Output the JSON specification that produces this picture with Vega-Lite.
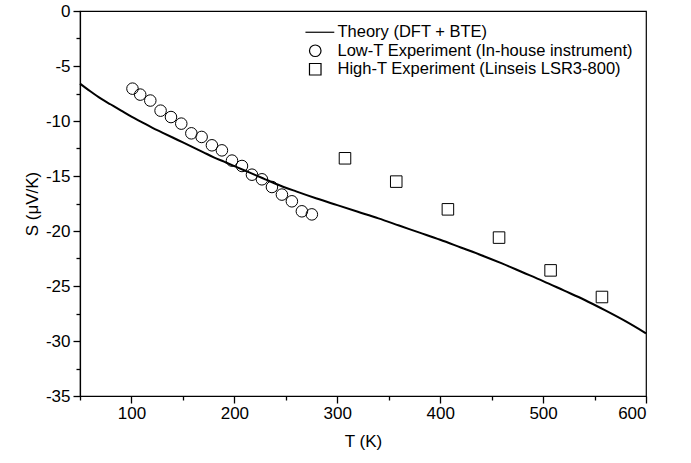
{
  "$schema": "https://vega.github.io/schema/vega-lite/v6.json",
  "width": 566,
  "height": 385,
  "autosize": {"type": "none"},
  "padding": {"left": 80, "top": 11, "right": 45, "bottom": 67},
  "background": "white",
  "config": {
    "view": {"stroke": "black", "strokeWidth": 1.2},
    "font": "Liberation Sans",
    "axis": {"grid": false, "ticks": true, "tickColor": "black", "tickWidth": 1.3, "tickSize": 7, "domainColor": "black", "domainWidth": 1.2}
  },
  "datasets": {
    "theory": [
      {"T": 50, "S": -6.6}, {"T": 60, "S": -7.3}, {"T": 70, "S": -7.95}, {"T": 80, "S": -8.5},
      {"T": 90, "S": -9.05}, {"T": 100, "S": -9.6}, {"T": 110, "S": -10.1}, {"T": 120, "S": -10.6},
      {"T": 130, "S": -11.05}, {"T": 140, "S": -11.5}, {"T": 150, "S": -11.95}, {"T": 160, "S": -12.4},
      {"T": 170, "S": -12.85}, {"T": 180, "S": -13.3}, {"T": 190, "S": -13.7}, {"T": 200, "S": -14.1},
      {"T": 210, "S": -14.5}, {"T": 220, "S": -14.9}, {"T": 230, "S": -15.3}, {"T": 240, "S": -15.7},
      {"T": 260, "S": -16.4}, {"T": 280, "S": -17.05}, {"T": 300, "S": -17.65}, {"T": 320, "S": -18.25},
      {"T": 340, "S": -18.85}, {"T": 360, "S": -19.5}, {"T": 380, "S": -20.15}, {"T": 400, "S": -20.8},
      {"T": 420, "S": -21.5}, {"T": 440, "S": -22.2}, {"T": 460, "S": -22.95}, {"T": 480, "S": -23.75},
      {"T": 500, "S": -24.55}, {"T": 520, "S": -25.4}, {"T": 540, "S": -26.25}, {"T": 560, "S": -27.2},
      {"T": 580, "S": -28.2}, {"T": 600, "S": -29.3}
    ],
    "exp": [
      {"series": "Low-T Experiment (In-house instrument)", "T": 101, "S": -7.06},
      {"series": "Low-T Experiment (In-house instrument)", "T": 108.5, "S": -7.6},
      {"series": "Low-T Experiment (In-house instrument)", "T": 118.3, "S": -8.14},
      {"series": "Low-T Experiment (In-house instrument)", "T": 128.3, "S": -9.06},
      {"series": "Low-T Experiment (In-house instrument)", "T": 138.4, "S": -9.64},
      {"series": "Low-T Experiment (In-house instrument)", "T": 148.4, "S": -10.24},
      {"series": "Low-T Experiment (In-house instrument)", "T": 158.2, "S": -11.12},
      {"series": "Low-T Experiment (In-house instrument)", "T": 168.2, "S": -11.45},
      {"series": "Low-T Experiment (In-house instrument)", "T": 178.2, "S": -12.21},
      {"series": "Low-T Experiment (In-house instrument)", "T": 187.9, "S": -12.67},
      {"series": "Low-T Experiment (In-house instrument)", "T": 197.7, "S": -13.6},
      {"series": "Low-T Experiment (In-house instrument)", "T": 207.4, "S": -14.09},
      {"series": "Low-T Experiment (In-house instrument)", "T": 217.1, "S": -14.88},
      {"series": "Low-T Experiment (In-house instrument)", "T": 226.8, "S": -15.3},
      {"series": "Low-T Experiment (In-house instrument)", "T": 236.5, "S": -16.0},
      {"series": "Low-T Experiment (In-house instrument)", "T": 246.2, "S": -16.69},
      {"series": "Low-T Experiment (In-house instrument)", "T": 255.9, "S": -17.3},
      {"series": "Low-T Experiment (In-house instrument)", "T": 265.6, "S": -18.21},
      {"series": "Low-T Experiment (In-house instrument)", "T": 275.3, "S": -18.49},
      {"series": "High-T Experiment (Linseis LSR3-800)", "T": 307.5, "S": -13.39},
      {"series": "High-T Experiment (Linseis LSR3-800)", "T": 357.3, "S": -15.51},
      {"series": "High-T Experiment (Linseis LSR3-800)", "T": 407.5, "S": -18.03},
      {"series": "High-T Experiment (Linseis LSR3-800)", "T": 457.2, "S": -20.6},
      {"series": "High-T Experiment (Linseis LSR3-800)", "T": 507.3, "S": -23.58},
      {"series": "High-T Experiment (Linseis LSR3-800)", "T": 557.2, "S": -26.0}
    ]
  },
  "resolve": {"axis": {"x": "independent", "y": "independent"}},
  "layer": [
    {
      "data": {"name": "theory"},
      "mark": {"type": "line", "color": "black", "strokeWidth": 2, "interpolate": "monotone"},
      "encoding": {
        "x": {
          "field": "T", "type": "quantitative",
          "scale": {"domain": [50, 600], "nice": false, "zero": false},
          "axis": {
            "orient": "bottom",
            "title": "T (K)",
            "values": [100, 200, 300, 400, 500, 600],
            "labelExpr": "toString(datum.value)",
            "labelFontSize": 17, "labelColor": "black", "labelPadding": 2,
            "titleFontSize": 17, "titleFontWeight": "normal", "titleColor": "black", "titlePadding": 12
          }
        },
        "y": {
          "field": "S", "type": "quantitative",
          "scale": {"domain": [-35, 0], "nice": false, "zero": false},
          "axis": {
            "orient": "left",
            "title": "S (μV/K)",
            "values": [-35, -30, -25, -20, -15, -10, -5, 0],
            "labelExpr": "toString(datum.value)",
            "labelFontSize": 17, "labelColor": "black", "labelPadding": 3,
            "titleFontSize": 17, "titleFontWeight": "normal", "titleColor": "black", "titlePadding": 4
          }
        }
      }
    },
    {
      "data": {"name": "exp"},
      "mark": {"type": "point", "filled": false, "stroke": "black", "strokeWidth": 1, "opacity": 1, "size": 133},
      "encoding": {
        "x": {
          "field": "T", "type": "quantitative",
          "axis": {
            "orient": "bottom",
            "title": null,
            "values": [50, 150, 250, 350, 450, 550],
            "labels": false,
            "domain": false,
            "tickSize": 4,
            "tickColor": "black",
            "tickWidth": 1.3
          }
        },
        "y": {
          "field": "S", "type": "quantitative",
          "axis": {
            "orient": "left",
            "title": null,
            "values": [-32.5, -27.5, -22.5, -17.5, -12.5, -7.5, -2.5],
            "labels": false,
            "domain": false,
            "tickSize": 4,
            "tickColor": "black",
            "tickWidth": 1.3
          }
        },
        "shape": {
          "field": "series", "type": "nominal",
          "scale": {
            "domain": ["Theory (DFT + BTE)", "Low-T Experiment (In-house instrument)", "High-T Experiment (Linseis LSR3-800)"],
            "range": ["M-1.7,0H3.3", "circle", "square"]
          },
          "legend": {
            "title": null,
            "orient": "none",
            "legendX": 227,
            "legendY": 13,
            "padding": 0,
            "symbolSize": 133,
            "symbolStrokeColor": "black",
            "symbolFillColor": "transparent",
            "symbolStrokeWidth": 1.2,
            "labelFontSize": 16.5,
            "labelColor": "black",
            "labelOffset": 14,
            "rowPadding": 1.5,
            "labelLimit": 400
          }
        }
      }
    }
  ]
}
